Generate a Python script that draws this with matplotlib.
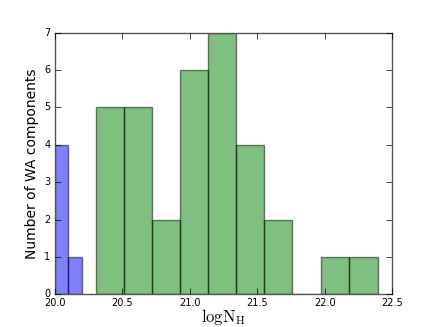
import matplotlib
matplotlib.use("Agg")
import matplotlib.pyplot as plt
import numpy as np

# histogram bin edges and counts
blue_edges = [20.0, 20.1, 20.2]
blue_counts = [4, 1]
green_edges = [20.31, 20.515, 20.72, 20.925, 21.135, 21.345, 21.55, 21.76, 21.97, 22.18, 22.39]
green_counts = [5, 5, 2, 6, 7, 4, 2, 0, 1, 1]

plt.style.use("classic")
plt.rcParams["mathtext.fontset"] = "cm"

fig = plt.figure(figsize=(4.36, 3.27), dpi=100, facecolor="white")
ax = fig.add_axes([0.125, 0.1, 0.775, 0.8])


def centers(edges):
    e = np.asarray(edges)
    return (e[:-1] + e[1:]) / 2


ax.hist(centers(blue_edges), bins=blue_edges, weights=blue_counts,
        color="blue", alpha=0.5, edgecolor="black", linewidth=1)
ax.hist(centers(green_edges), bins=green_edges, weights=green_counts,
        color="green", alpha=0.5, edgecolor="black", linewidth=1)

ax.set_xlim(20.0, 22.5)
ax.set_ylim(0, 7)
ax.set_xticks(np.arange(20.0, 22.51, 0.5))
ax.set_yticks(range(0, 8))
ax.tick_params(labelsize=7, direction="in", pad=3)
ax.set_ylabel("Number of WA components", fontsize=10, labelpad=4)
ax.set_xlabel(r"$\mathrm{logN_H}$", fontsize=12, labelpad=-1)
for s in ax.spines.values():
    s.set_color("#555555")

fig.savefig("out.png", dpi=100, facecolor="white")
